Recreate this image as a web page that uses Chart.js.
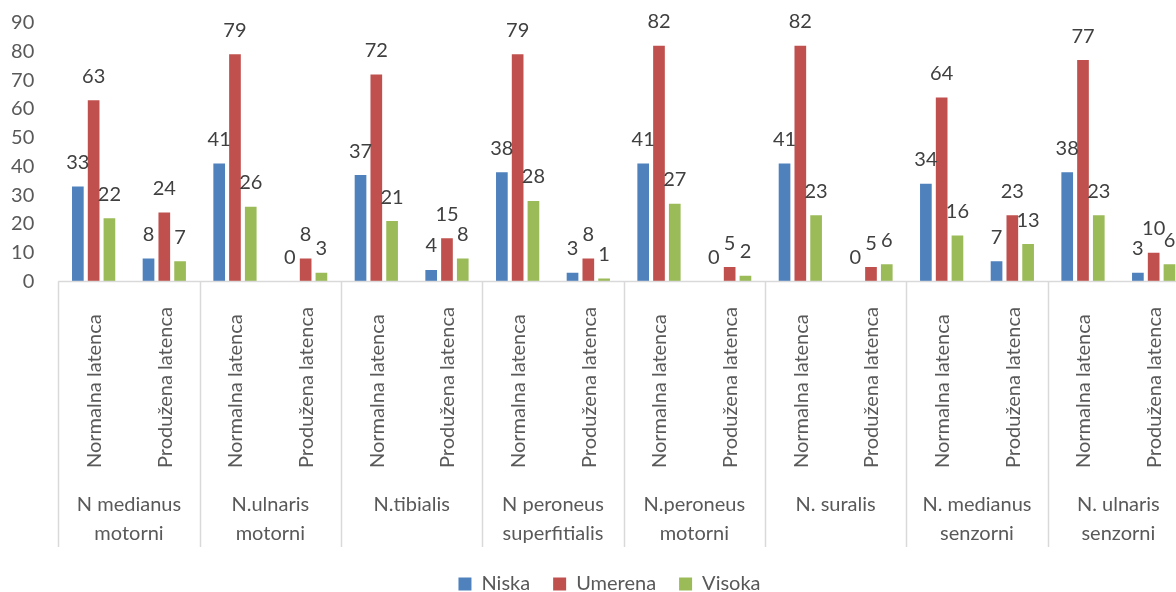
<!DOCTYPE html>
<html>
<head>
<meta charset="utf-8">
<script src="https://cdn.jsdelivr.net/npm/chart.js@4/dist/chart.umd.min.js"></script>
<style>
  html, body { margin: 0; padding: 0; background: #fff; overflow: hidden; }
  #wrap { width: 1190px; height: 592px; }
</style>
</head>
<body>
<div id="wrap"><canvas id="latencyChart" width="1190" height="592"></canvas></div>
<script>
const categories = [
  "Normalna latenca", "Produžena latenca",
  "Normalna latenca", "Produžena latenca",
  "Normalna latenca", "Produžena latenca",
  "Normalna latenca", "Produžena latenca",
  "Normalna latenca", "Produžena latenca",
  "Normalna latenca", "Produžena latenca",
  "Normalna latenca", "Produžena latenca",
  "Normalna latenca", "Produžena latenca",
];
const nerveGroups = [
  ["N medianus", "motorni"],
  ["N.ulnaris", "motorni"],
  ["N.tibialis"],
  ["N peroneus", "superfitialis"],
  ["N.peroneus", "motorni"],
  ["N. suralis"],
  ["N. medianus", "senzorni"],
  ["N. ulnaris", "senzorni"],
];
const niska = [33, 8, 41, 0, 37, 4, 38, 3, 41, 0, 41, 0, 34, 7, 38, 3];
const umerena = [63, 24, 79, 8, 72, 15, 79, 8, 82, 5, 82, 5, 64, 23, 77, 10];
const visoka = [22, 7, 26, 3, 21, 8, 28, 1, 27, 2, 23, 6, 16, 13, 23, 6];
const yTicks = [0, 10, 20, 30, 40, 50, 60, 70, 80, 90];

Chart.defaults.font.family = "Lato";
Chart.defaults.color = "#595959";

// value labels above each bar
const barValues = {
  id: "barValues",
  afterDatasetsDraw(chart) {
    const ctx = chart.ctx;
    ctx.save();
    ctx.font = "20px Lato";
    ctx.fillStyle = "#404040";
    ctx.textAlign = "center";
    ctx.textBaseline = "alphabetic";
    chart.data.datasets.forEach((ds, di) => {
      chart.getDatasetMeta(di).data.forEach((bar, i) => {
        ctx.fillText(String(ds.data[i]), bar.x, bar.y - 17.5);
      });
    });
    ctx.restore();
  },
};

// the plot runs past the right edge, so nudge the legend to stay centred on the whole figure
const legendShift = {
  id: "legendShift",
  afterLayout(chart) {
    if (chart.legend) {
      chart.legend.left += 15;
      chart.legend.right += 15;
    }
  },
};

// two-level category axis: rotated sub labels, nerve names, separators
const groupedAxis = {
  id: "groupedAxis",
  afterDraw(chart) {
    const ctx = chart.ctx;
    const x = chart.scales.x;
    const area = chart.chartArea;
    const step = x.getPixelForValue(1) - x.getPixelForValue(0);
    const axisY = area.bottom;
    const lineBottom = 547;

    ctx.save();
    ctx.strokeStyle = "#d9d9d9";
    ctx.lineWidth = 1.5;
    ctx.beginPath();
    ctx.moveTo(area.left, axisY);
    ctx.lineTo(area.right, axisY);
    for (let g = 0; g < nerveGroups.length; g++) {
      const sx = Math.round(x.getPixelForValue(g * 2) - step / 2) + 0.5;
      ctx.moveTo(sx, axisY);
      ctx.lineTo(sx, lineBottom);
    }
    ctx.stroke();

    ctx.fillStyle = "#595959";
    ctx.font = "20px Lato";
    categories.forEach((label, i) => {
      const px = x.getPixelForValue(i);
      ctx.save();
      ctx.translate(px + 1, 468);
      ctx.rotate(-Math.PI / 2);
      ctx.textAlign = "left";
      ctx.textBaseline = "middle";
      ctx.fillText(label, 0, 0);
      ctx.restore();
    });

    ctx.textAlign = "center";
    ctx.textBaseline = "alphabetic";
    nerveGroups.forEach((lines, g) => {
      const cx = (x.getPixelForValue(g * 2) + x.getPixelForValue(g * 2 + 1)) / 2;
      lines.forEach((line, k) => {
        ctx.fillText(line, cx, 511 + k * 29.3);
      });
    });
    ctx.restore();
  },
};

new Chart(document.getElementById("latencyChart"), {
  type: "bar",
  data: {
    labels: categories,
    datasets: [
      { label: "Niska", data: niska, backgroundColor: "#4f81bd" },
      { label: "Umerena", data: umerena, backgroundColor: "#c0504d" },
      { label: "Visoka", data: visoka, backgroundColor: "#9bbb59" },
    ],
  },
  options: {
    responsive: false,
    animation: false,
    categoryPercentage: 0.67,
    barPercentage: 0.74,
    layout: { padding: { top: 22.7, right: 1, left: 0, bottom: -12 } },
    plugins: {
      tooltip: { enabled: false },
      legend: {
        position: "bottom",
        labels: {
          boxWidth: 13,
          boxHeight: 13,
          padding: 23,
          color: "#595959",
          font: { size: 20 },
        },
      },
    },
    scales: {
      x: {
        grid: { display: false },
        border: { display: false },
        ticks: { display: false },
        afterFit(scale) { scale.height = 269.5; },
      },
      y: {
        min: 0,
        max: 90,
        grid: { display: false, drawTicks: false },
        border: { display: false },
        afterBuildTicks(scale) { scale.ticks = yTicks.map(v => ({ value: v })); },
        ticks: { padding: 24, color: "#595959", font: { size: 20 } },
        afterFit(scale) {
          scale.width = 58.3;
          // keep the tick padding from pushing the plot down
          scale.paddingTop = 0;
          scale.paddingBottom = 0;
        },
      },
    },
  },
  plugins: [barValues, legendShift, groupedAxis],
});
</script>
</body>
</html>
